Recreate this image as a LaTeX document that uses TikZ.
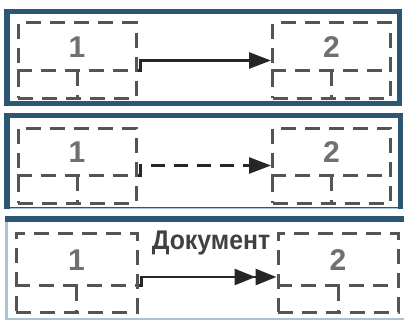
\documentclass[tikz,border=0pt]{standalone}
\usepackage{fontspec}
\setmainfont{Liberation Sans}
\usetikzlibrary{arrows.meta,calc}
\definecolor{framec}{HTML}{2D5672}
\definecolor{framel}{HTML}{A9C4D6}
\definecolor{boxgray}{HTML}{555555}
\definecolor{numgray}{HTML}{707070}
\begin{document}
\begin{tikzpicture}[x=1pt,y=-1pt,
  dl/.style={draw=boxgray,line width=3pt,dash pattern=on 15pt off 9pt},
  dbox/.style={dl,rectangle,inner sep=0pt,minimum width=118pt,minimum height=75pt},
  num/.style={text=numgray,font=\fontsize{30}{30}\selectfont\bfseries,inner sep=0pt},
  conn/.style={draw=black!85,line width=2.5pt},
  tip/.style={-{Triangle[length=22pt,width=16pt]}}
]
\useasboundingbox (0,0) rectangle (404,321);
% panel frames
\fill[framec] (4,9) rectangle (402,106);
\fill[white] (10,14) rectangle (397,101);
\fill[framec] (4,113) rectangle (403,209);
\fill[white] (10,118) rectangle (398,207);
\draw[framel,line width=1pt] (10,208) -- (398,208);
\fill[framel] (5,216) rectangle (404,320);
\fill[framec] (5,216) rectangle (404,222);
\fill[white] (8,222) rectangle (404,318);

% ---- panel 1
\node[dbox] (a1) at (77,60.5) {};
\node[dbox] (a2) at (331.5,60.5) {};
\draw[dl] ([yshift=-49pt]a1.north west) -- ([yshift=-49pt]a1.north east);
\draw[dl] ([yshift=-49pt]a1.north) -- (a1.south);
\draw[dl] ([yshift=-49pt]a2.north west) -- ([yshift=-49pt]a2.north east);
\draw[dl] ([yshift=-49pt]a2.north) -- (a2.south);
\node[num] (na1) at (77,47.5) {1};
\node[num] (na2) at (331.5,47.5) {2};
\draw[conn,tip] ([yshift=-49pt]a1.north east) -- ++(3,0) |- (a2.west);

% ---- panel 2
\node[dbox] (b1) at (77,165.5) {};
\node[dbox] (b2) at (331.5,165.5) {};
\draw[dl] ([yshift=-49pt]b1.north west) -- ([yshift=-49pt]b1.north east);
\draw[dl] ([yshift=-49pt]b1.north) -- (b1.south);
\draw[dl] ([yshift=-49pt]b2.north west) -- ([yshift=-49pt]b2.north east);
\draw[dl] ([yshift=-49pt]b2.north) -- (b2.south);
\node[num] (nb1) at (77,152.5) {1};
\node[num] (nb2) at (331.5,152.5) {2};
\draw[conn,tip,dash pattern=on 14pt off 9pt] ([yshift=-49pt]b1.north east) -- ++(3,0) |- (b2.west);

% ---- panel 3
\node[dbox,minimum width=121pt,minimum height=79pt] (c1) at (76.5,272.5) {};
\node[dbox,minimum width=120pt,minimum height=79pt] (c2) at (338,272.5) {};
\draw[dl] ([yshift=-54pt]c1.north west) -- ([yshift=-54pt]c1.north east);
\draw[dl] ([yshift=-54pt]c1.north) -- (c1.south);
\draw[dl] ([yshift=-54pt]c2.north west) -- ([yshift=-54pt]c2.north east);
\draw[dl] ([yshift=-54pt]c2.north) -- (c2.south);
\node[num] (nc1) at (76.5,260) {1};
\node[num] (nc2) at (338,260) {2};
\draw[conn,-{Triangle[length=21pt,width=16pt]Triangle[length=21pt,width=16pt]}] ([yshift=-54pt]c1.north east) -- ++(3,0) |- (c2.west |- 0,277);
\node[text=black!75,font=\fontsize{27}{27}\selectfont\bfseries,inner sep=0pt,xscale=0.92] (lab) at (211,243) {Документ};
\end{tikzpicture}
\end{document}
